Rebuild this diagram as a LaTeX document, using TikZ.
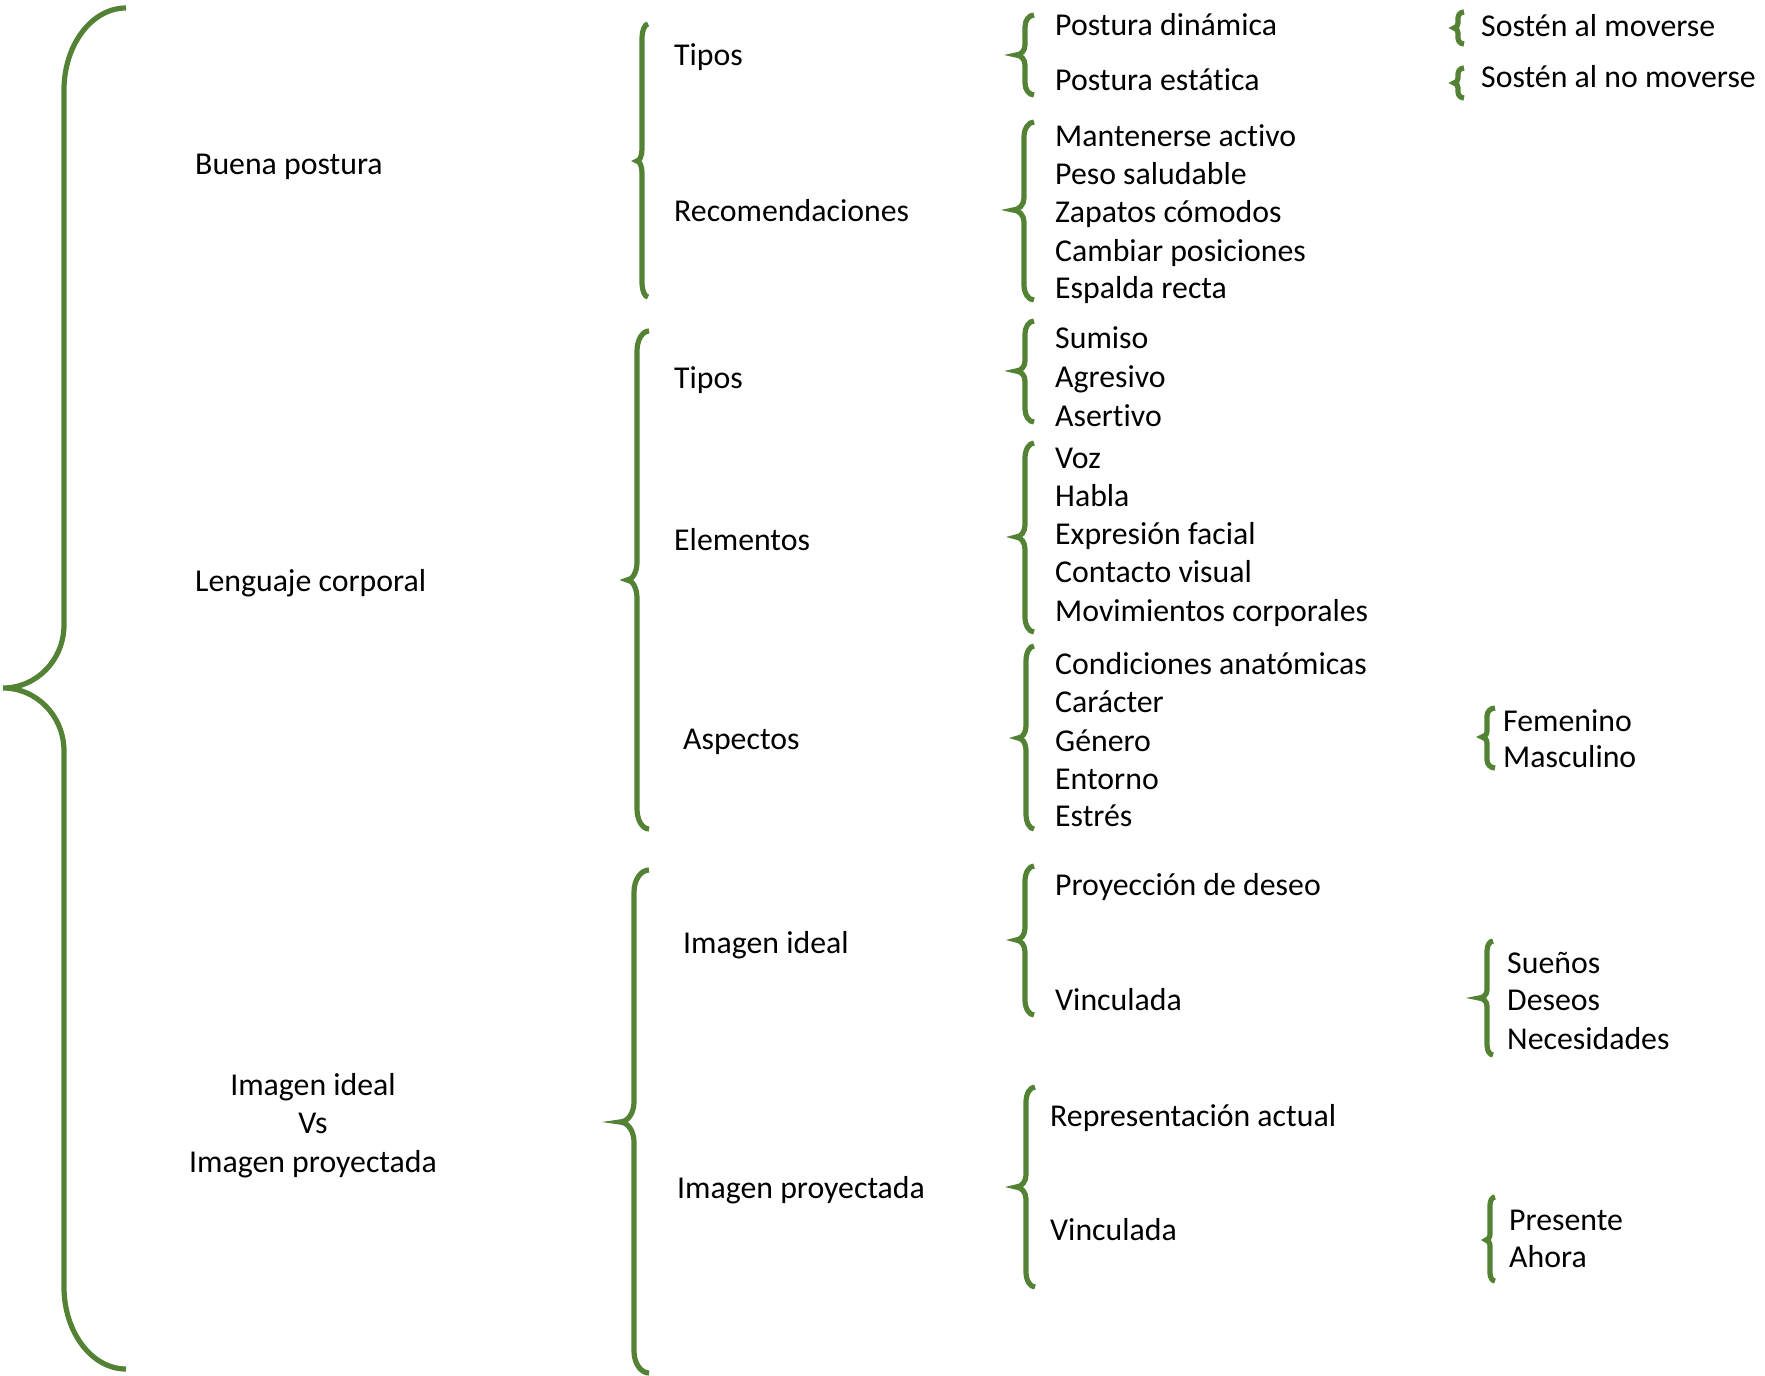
\documentclass[tikz,border=0pt]{standalone}
\usepackage{fontspec}
\setmainfont{Carlito}[RawFeature={-liga}]
\definecolor{brgreen}{HTML}{548235}
\newcommand\grbrace[8]{%
\draw[brc] (#1,-#4) .. controls ({#1-0.552*(#1-#2)},-#4) and (#2,{-(#4+#7-0.552*#7)}) .. (#2,{-(#4+#7)})
 -- (#2,{-(#5-#8)}) .. controls (#2,{-(#5-#8+0.552*#8)}) and ({#3+0.552*(#2-#3)},-#5) .. (#3,-#5)
 .. controls ({#3+0.552*(#2-#3)},-#5) and (#2,{-(#5+#8-0.552*#8)}) .. (#2,{-(#5+#8)})
 -- (#2,{-(#6-#7)}) .. controls (#2,{-(#6-#7+0.552*#7)}) and ({#1-0.552*(#1-#2)},-#6) .. (#1,-#6);}
\begin{document}
\begin{tikzpicture}[x=1bp,y=1bp,
  brc/.style={draw=brgreen,line width=5.2bp},
  lbl/.style={anchor=base west,inner sep=0pt,yshift=-2bp,font=\fontsize{31.8bp}{38bp}\selectfont,text=black},
  clbl/.style={anchor=base,inner sep=0pt,yshift=-2bp,font=\fontsize{31.8bp}{38bp}\selectfont,text=black}]
\useasboundingbox (0,0) rectangle (1765,-1376);
% braces
\grbrace{126}{64}{3}{8}{688}{1369}{82}{63}
\grbrace{648}{642}{637}{24}{161}{297}{15}{12}
\grbrace{649}{637}{627}{331}{580}{829}{20}{18}
\grbrace{649}{634}{620}{870}{1122}{1373}{22}{20}
\grbrace{1034}{1025}{1016}{15}{55}{95}{12}{10}
\grbrace{1034}{1024}{1013}{122}{210}{300}{15}{12}
\grbrace{1034}{1025}{1016}{321}{371}{422}{13}{10}
\grbrace{1034}{1025}{1016}{443}{537}{632}{15}{12}
\grbrace{1034}{1026}{1018}{646}{738}{829}{15}{12}
\grbrace{1034}{1025}{1016}{866}{940}{1015}{15}{12}
\grbrace{1035}{1026}{1016}{1087}{1187}{1287}{15}{12}
\grbrace{1464}{1458}{1454}{12}{28}{44}{6}{5}
\grbrace{1464}{1458}{1454}{68}{83}{98}{6}{5}
\grbrace{1495}{1487}{1482}{708}{737}{768}{8}{6}
\grbrace{1493}{1487}{1479}{941}{998}{1055}{10}{8}
\grbrace{1495}{1490}{1486}{1197}{1240}{1281}{8}{6}
% column 1
\node[lbl] (bp) at (195,-173) {Buena postura};
\node[lbl] (lc) at (195,-589) {Lenguaje corporal};
\node[clbl] (ii1) at (313,-1093) {Imagen ideal};
\node[clbl] (vs) at (313,-1131) {Vs};
\node[clbl] (ip1) at (313,-1170) {Imagen proyectada};
% column 2
\node[lbl] (tip1) at (674,-64) {Tipos};
\node[lbl] (rec) at (674,-220) {Recomendaciones};
\node[lbl] (tip2) at (674,-386) {Tipos};
\node[lbl] (ele) at (674,-548) {Elementos};
\node[lbl] (asp) at (683,-747) {Aspectos};
\node[lbl] (ii2) at (683,-951) {Imagen ideal};
\node[lbl] (ip2) at (677,-1196) {Imagen proyectada};
% column 3
\node[lbl] (pd) at (1055,-34) {Postura dinámica};
\node[lbl] (pe) at (1055,-89) {Postura estática};
\node[lbl] (r1) at (1055,-145) {Mantenerse activo};
\node[lbl] (r2) at (1055,-183) {Peso saludable};
\node[lbl] (r3) at (1055,-221) {Zapatos cómodos};
\node[lbl] (r4) at (1055,-260) {Cambiar posiciones};
\node[lbl] (r5) at (1055,-297) {Espalda recta};
\node[lbl] (s1) at (1055,-347) {Sumiso};
\node[lbl] (s2) at (1055,-385) {Agresivo};
\node[lbl] (s3) at (1055,-424) {Asertivo};
\node[lbl] (e1) at (1055,-466) {Voz};
\node[lbl] (e2) at (1055,-504) {Habla};
\node[lbl] (e3) at (1055,-542) {Expresión facial};
\node[lbl] (e4) at (1055,-580) {Contacto visual};
\node[lbl] (e5) at (1055,-619) {Movimientos corporales};
\node[lbl] (a1) at (1055,-672) {Condiciones anatómicas};
\node[lbl] (a2) at (1055,-710) {Carácter};
\node[lbl] (a3) at (1055,-749) {Género};
\node[lbl] (a4) at (1055,-787) {Entorno};
\node[lbl] (a5) at (1055,-824) {Estrés};
\node[lbl] (pdd) at (1055,-893) {Proyección de deseo};
\node[lbl] (v1) at (1055,-1008) {Vinculada};
\node[lbl] (ra) at (1050,-1124) {Representación actual};
\node[lbl] (v2) at (1050,-1238) {Vinculada};
% column 4
\node[lbl] (so1) at (1481,-35) {Sostén al moverse};
\node[lbl] (so2) at (1481,-86) {Sostén al no moverse};
\node[lbl] (fe) at (1503,-729) {Femenino};
\node[lbl] (ma) at (1503,-765) {Masculino};
\node[lbl] (su) at (1507,-971) {Sueños};
\node[lbl] (de) at (1507,-1008) {Deseos};
\node[lbl] (ne) at (1507,-1047) {Necesidades};
\node[lbl] (pr) at (1509,-1228) {Presente};
\node[lbl] (ah) at (1509,-1265) {Ahora};
\end{tikzpicture}
\end{document}
